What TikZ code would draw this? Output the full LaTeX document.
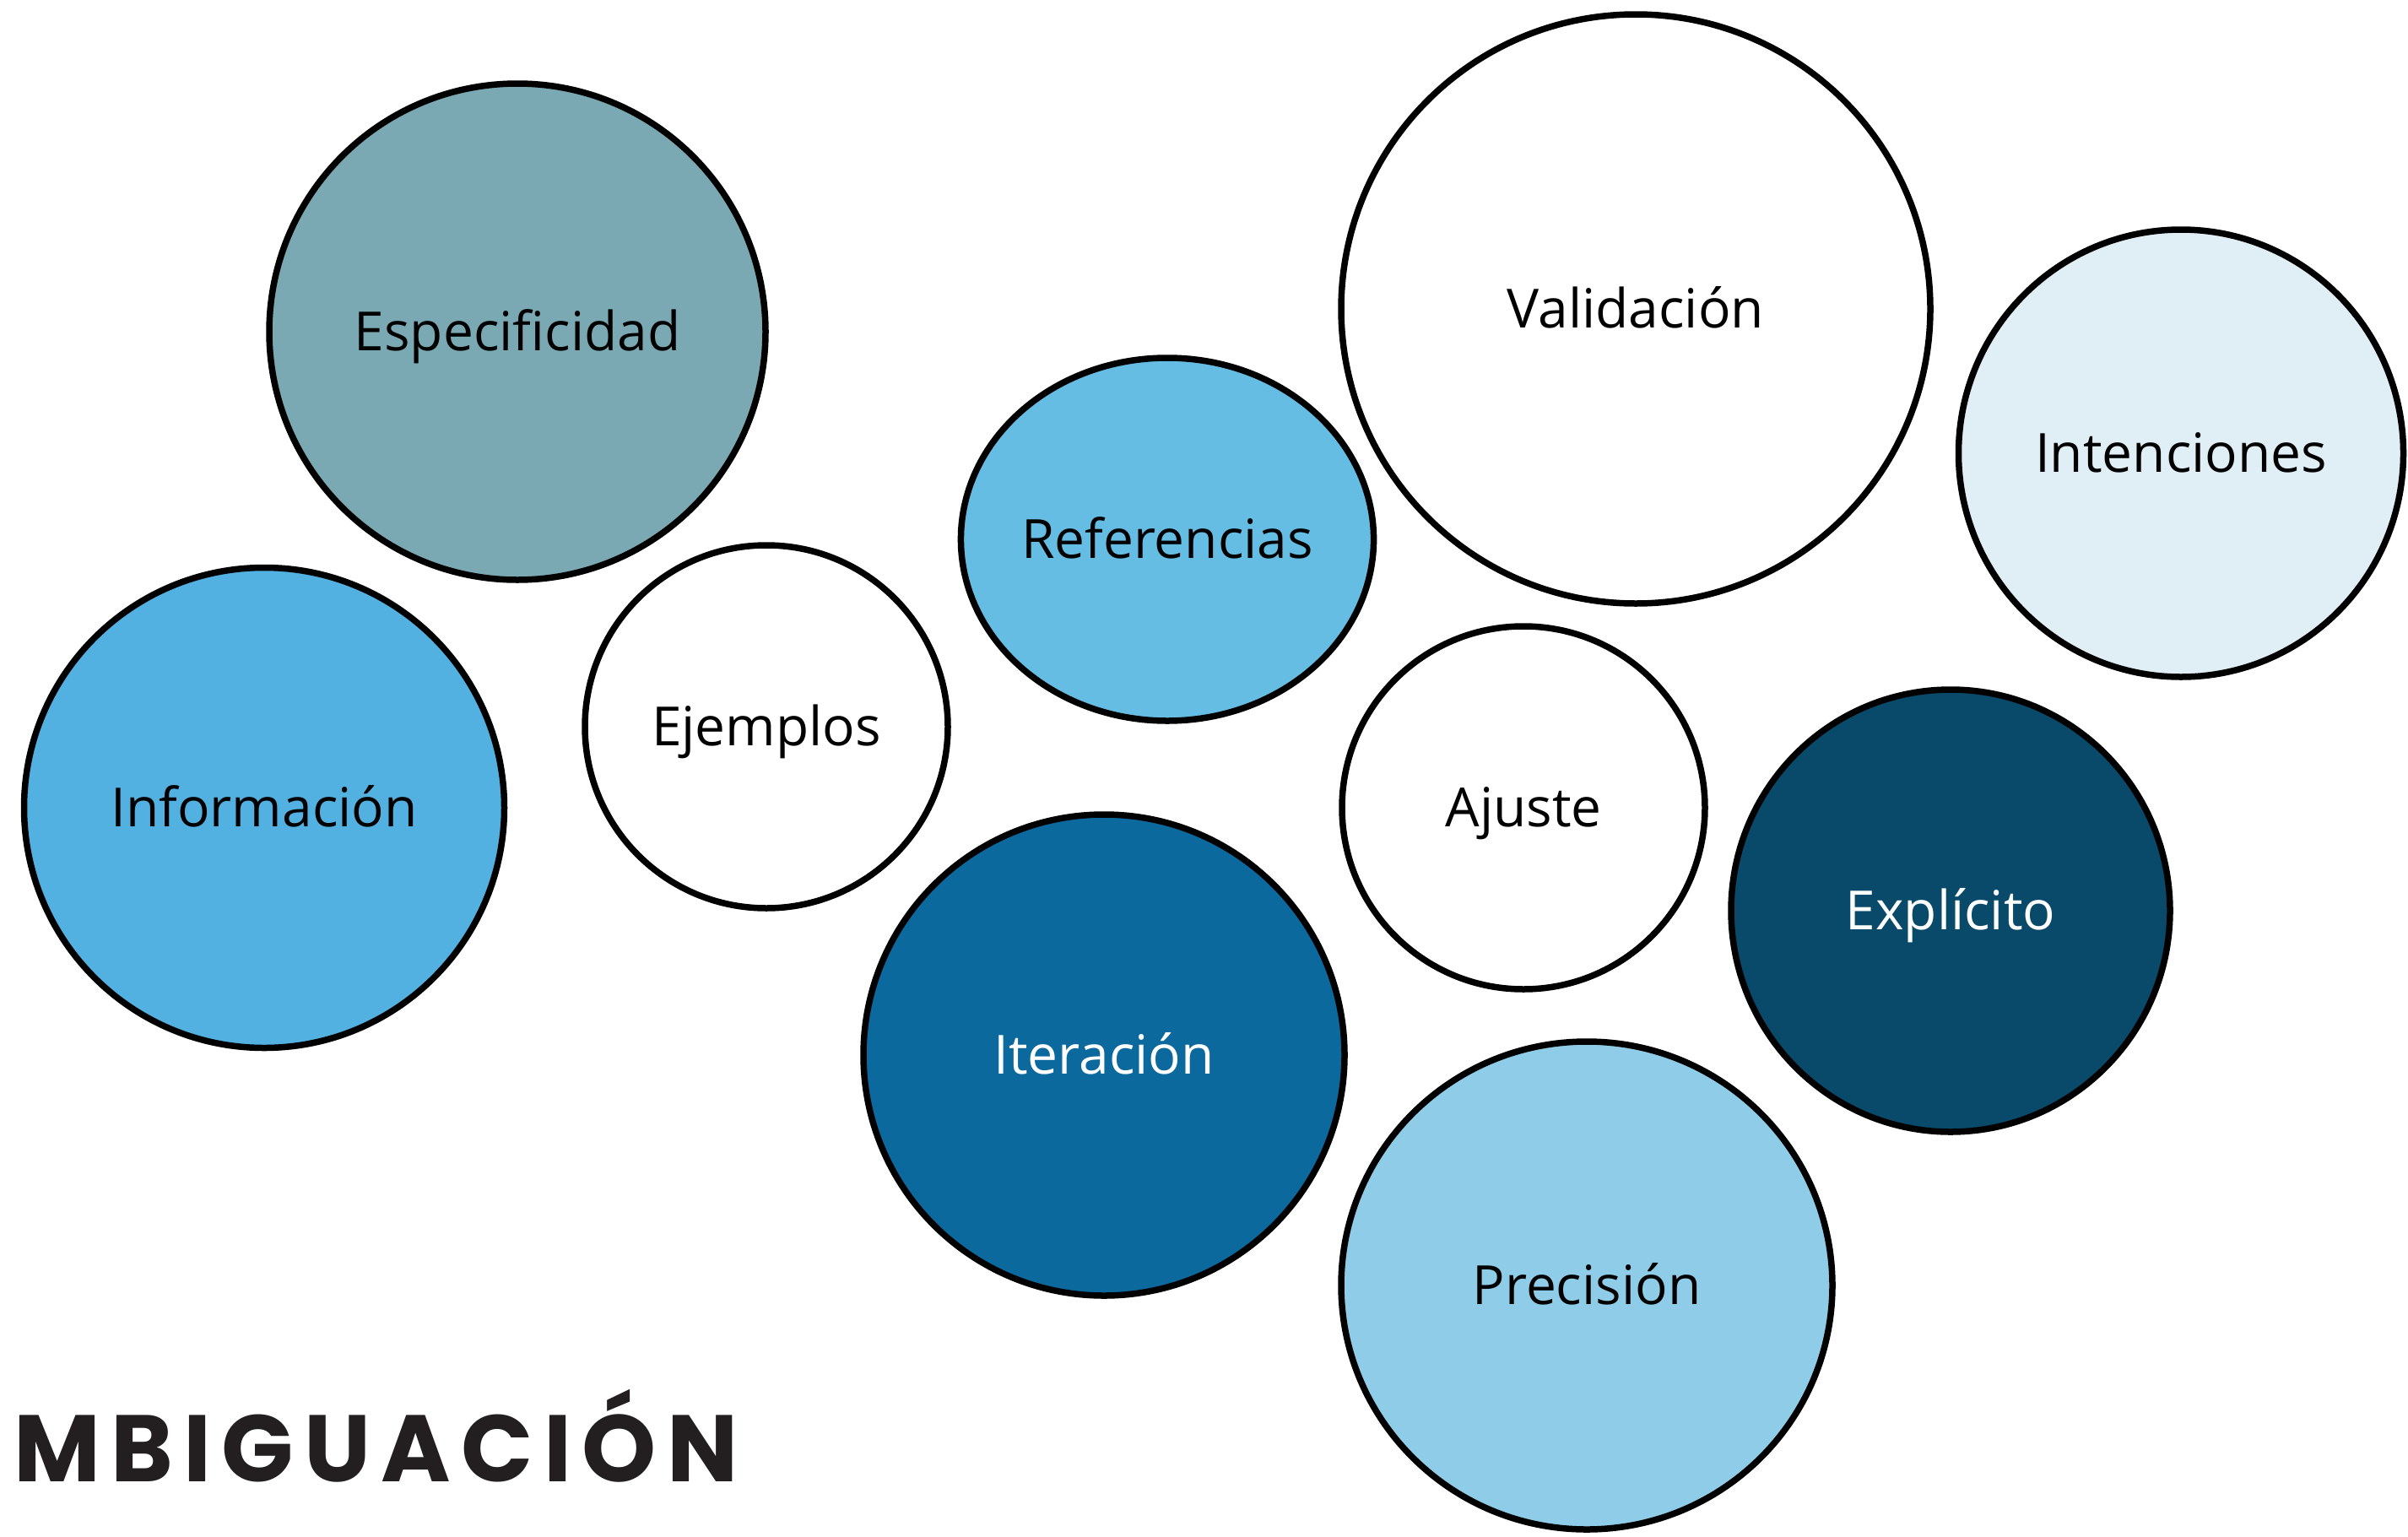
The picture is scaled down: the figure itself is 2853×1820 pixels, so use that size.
\documentclass[tikz,border=0pt]{standalone}
\usepackage{fontspec}
\setmainfont{Open Sans}
\newfontfamily\titlefont[LetterSpace=11]{Poppins Bold}
\usetikzlibrary{shapes.geometric}
\definecolor{cEsp}{HTML}{7AA9B3}
\definecolor{cInf}{HTML}{52B1E1}
\definecolor{cRef}{HTML}{66BDE4}
\definecolor{cInt}{HTML}{E0EEF5}
\definecolor{cExp}{HTML}{094A6B}
\definecolor{cIte}{HTML}{0C699E}
\definecolor{cPre}{HTML}{8ECCE8}
\definecolor{cTitle}{HTML}{231F20}
\tikzset{
  bubble/.style={ellipse, draw=black, line width=7.5pt, inner sep=0pt,
    font=\fontsize{64}{76}\selectfont, text=black,
    text height=45.5pt, text depth=0pt},
  darkbubble/.style={bubble, text=white},
}
\begin{document}
\begin{tikzpicture}[x=1pt,y=-1pt]
\useasboundingbox (0,0) rectangle (2853,1820);
\fill[white] (0,0) rectangle (2853,1820);
\node[bubble, fill=cEsp, minimum width=588pt, minimum height=588pt] (esp) at (613,393) {Especificidad};
\node[bubble, fill=cInf, minimum width=569pt, minimum height=569pt] (inf) at (313,957) {Información};
\node[bubble, fill=white, minimum width=430pt, minimum height=430pt] (eje) at (908,861) {Ejemplos};
\node[bubble, fill=cRef, minimum width=474pt, minimum height=430pt] (ref) at (1383,639) {Referencias};
\node[bubble, fill=white, minimum width=698pt, minimum height=698pt] (val) at (1938,366) {Validación};
\node[bubble, fill=cInt, minimum width=527pt, minimum height=530pt] (int) at (2584,537) {Intenciones};
\node[bubble, fill=white, minimum width=430pt, minimum height=430pt] (aju) at (1805,957) {Ajuste};
\node[darkbubble, fill=cExp, minimum width=520pt, minimum height=524pt] (exp) at (2311,1079) {Explícito};
\node[darkbubble, fill=cIte, minimum width=570pt, minimum height=570pt] (ite) at (1308,1250) {Iteración};
\node[bubble, fill=cPre, minimum width=582pt, minimum height=578pt] (pre) at (1880,1523) {Precisión};
\node[anchor=base west, inner sep=0pt, text=cTitle, font=\titlefont\fontsize{112}{130}\selectfont] (title) at (16,1755) {MBIGUACIÓN};
\end{tikzpicture}
\end{document}
